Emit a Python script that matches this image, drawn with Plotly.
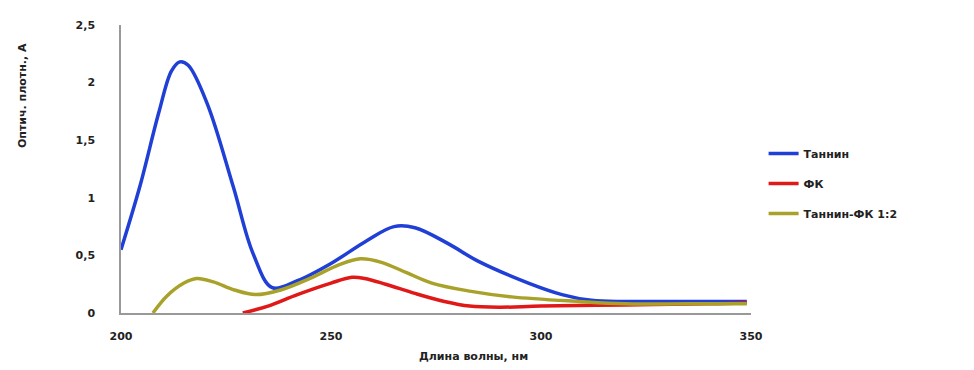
import plotly.graph_objects as go

# Wavelength (nm) / optical density readings
tannin_x = [200, 204.5, 209, 212, 214, 216, 220.5, 226.7, 231.4, 236, 242, 250, 258.6, 265, 270, 278, 285, 297, 305, 312, 320, 330, 340, 349]
tannin_y = [0.55, 1.1, 1.74, 2.1, 2.18, 2.15, 1.82, 1.1, 0.52, 0.22, 0.28, 0.43, 0.63, 0.75, 0.74, 0.6, 0.45, 0.26, 0.16, 0.11, 0.1, 0.1, 0.1, 0.1]

fk_x = [229, 235, 242, 250, 255, 258, 263, 270, 277, 283, 290, 300, 320, 340, 349]
fk_y = [0.0, 0.06, 0.16, 0.26, 0.31, 0.3, 0.25, 0.17, 0.1, 0.06, 0.05, 0.06, 0.07, 0.08, 0.09]

mix_x = [207.6, 211, 215, 218, 222, 227, 232, 238, 245, 252, 257, 262, 268, 274, 283, 293, 309, 320, 335, 349]
mix_y = [0.0, 0.15, 0.26, 0.3, 0.27, 0.2, 0.16, 0.2, 0.3, 0.42, 0.47, 0.44, 0.35, 0.26, 0.19, 0.14, 0.1, 0.08, 0.08, 0.08]

series_names = ["Таннин", "ФК", "Таннин-ФК 1:2"]
x_ticks = [200, 250, 300, 350]
y_ticks = [0, 0.5, 1, 1.5, 2, 2.5]
y_tick_text = ["0", "0,5", "1", "1,5", "2", "2,5"]

fig = go.Figure()
fig.add_trace(go.Scatter(x=tannin_x, y=tannin_y, name=series_names[0], mode="lines", legendgroup="a",
                         line=dict(color="#1f3fd6", width=3.5, shape="spline")))
fig.add_trace(go.Scatter(x=fk_x, y=fk_y, name=series_names[1], mode="lines", legendgroup="b",
                         line=dict(color="#e01818", width=3.5, shape="spline")))
fig.add_trace(go.Scatter(x=mix_x, y=mix_y, name=series_names[2], mode="lines", legendgroup="c",
                         line=dict(color="#a8a22a", width=3.5, shape="spline")))

font = dict(family="DejaVu Sans", size=11, color="#222", weight="bold")

fig.update_layout(
    width=974, height=370,
    margin=dict(l=121, r=223, t=25, b=57),
    paper_bgcolor="white", plot_bgcolor="white",
    showlegend=True,
    legend=dict(x=1.02, y=0.45, xanchor="left", yanchor="middle",
                font=dict(family="DejaVu Sans", size=11, color="#222", weight="bold"),
                tracegroupgap=11, itemwidth=30),
    xaxis=dict(range=[200, 350], tickvals=x_ticks, showgrid=False, zeroline=False,
               showline=True, linecolor="#999", linewidth=1.5, ticks="",
               tickfont=font, ticklabelstandoff=12),
    yaxis=dict(range=[0, 2.5], tickvals=y_ticks, ticktext=y_tick_text, showgrid=False,
               zeroline=False, showline=True, linecolor="#999", linewidth=1.5, ticks="",
               tickfont=font, ticklabelstandoff=22),
    annotations=[
        dict(text="Оптич. плотн., А", x=22, y=96, xref="paper", yref="paper",
             xanchor="center", yanchor="middle",
             showarrow=False, textangle=-90, font=font),
        dict(text="Длина волны, нм", x=473, y=356, xref="paper", yref="paper",
             xanchor="center", yanchor="middle",
             showarrow=False, font=font),
    ],
)
# convert pixel positions to paper coordinates for annotations
pw = 974 - 121 - 223
ph = 370 - 25 - 57
for a in fig.layout.annotations:
    a.x = (a.x - 121) / pw
    a.y = (370 - 57 - a.y) / ph

fig.write_html("out.html")
